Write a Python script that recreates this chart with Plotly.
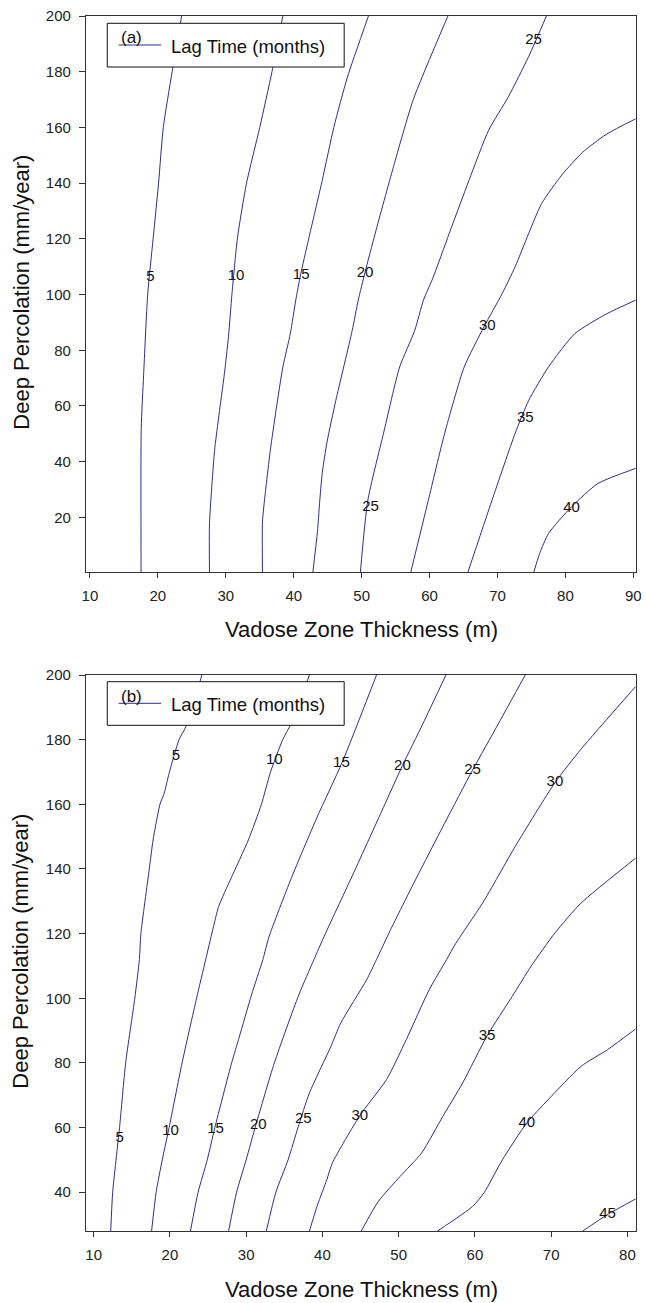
import plotly.graph_objects as go

# ---------------- Panel (a) data: contour lines (x = vadose thickness, y = deep percolation) ----------------
a_levels = [5, 10, 15, 20, 25, 30, 35, 40]
a5_x = [17.53, 17.55, 17.9, 18.5, 19.3, 20.1, 20.8, 22.1, 23.5]
a5_y = [0, 52, 71, 100, 120, 140, 160, 180, 200]
a10_x = [27.6, 27.6, 28.35, 28.9, 29.8, 30.4, 30.9, 31.7, 33.05, 35.0, 36.8, 38.4]
a10_y = [0, 17.8, 44, 55, 71.7, 85, 100, 120, 140, 160, 180, 200]
a15_x = [35.4, 35.4, 35.7, 36.55, 37.4, 38.4, 39.5, 40.3, 41.0, 42.2, 44.2, 45.9, 47.9, 51.0]
a15_y = [0, 18.4, 26.2, 44, 58.5, 74, 86, 98, 107, 120, 141, 160, 178, 200]
a20_x = [42.8, 43.5, 43.8, 44.2, 44.9, 46.2, 48.6, 49.5, 50.5, 52.0, 54.7, 57.6, 62.7]
a20_y = [0, 15, 25, 36, 47, 62, 87, 98, 108, 122, 146, 170, 200]
a25_x = [49.8, 50.9, 53.2, 55.6, 57.8, 59.1, 60.5, 62.9, 65.8, 68.7, 71.6, 74.6, 77.2]
a25_y = [0, 26, 50, 74, 87, 98, 106, 122, 141, 159, 171, 185.5, 200]
a30_x = [57.2, 59.8, 62.2, 65.1, 68.0, 70.7, 72.6, 74.6, 76.5, 79.5, 82.5, 86.0, 90.35]
a30_y = [0, 26, 50, 74, 88.4, 100.4, 110, 122, 132.7, 143, 151, 157.5, 163.1]
a35_x = [65.6, 69.2, 72.6, 74.6, 77.5, 81.4, 86.0, 90.35]
a35_y = [0, 26.2, 50.2, 62, 74, 86, 93, 98]
a40_x = [75.3, 76.2, 77.5, 80.9, 84.8, 90.35]
a40_y = [0, 7, 14.2, 23.8, 32.2, 37.6]

a_lab_text = ["5", "10", "15", "20", "25", "30", "35", "25", "40"]
a_lab_x = [18.9, 31.5, 41.1, 50.5, 75.3, 68.5, 74.1, 51.3, 80.9]
a_lab_y = [106.3, 106.6, 107.0, 107.6, 191.4, 88.7, 55.5, 23.8, 23.2]

# ---------------- Panel (b) data ----------------
b5_x = [12.24, 12.5, 13.4, 14.2, 15.4, 16.0, 16.2, 17.3, 17.8, 18.7, 19.25, 19.9, 21.2, 22.1, 24.2]
b5_y = [28, 40, 60, 80, 100, 112, 120, 140, 149, 160, 163.4, 169.6, 180, 184, 200]
b10_x = [17.6, 18.2, 19.0, 19.9, 21.6, 23.5, 24.7, 25.6, 26.4, 28.0, 30.3, 32.0, 33.2, 34.8, 35.9, 38.3]
b10_y = [28, 40, 50, 60, 80, 100, 112, 121, 128.4, 137, 149, 160, 170, 180, 185, 200]
b15_x = [22.7, 23.7, 24.9, 25.9, 28.1, 29.1, 30.7, 32.2, 33.0, 35.9, 39.3, 42.6, 47.1]
b15_y = [28, 40, 50, 60, 80, 88, 101, 112, 119, 137, 156, 173, 200]
b20_x = [27.7, 28.75, 30.0, 31.3, 33.7, 36.9, 38.9, 40.2, 43.75, 48.0, 50.5, 53.2, 56.2]
b20_y = [28, 40, 50, 61, 80, 101, 112, 119, 137, 159, 172, 185, 200]
b25_x = [32.65, 33.9, 35.5, 36.8, 38.3, 41.1, 42.4, 45.8, 47.1, 48.9, 52.2, 56.0, 59.7, 63.1, 66.6]
b25_y = [28, 40, 50, 60, 70.7, 85, 92.3, 105.7, 112, 121, 136.6, 154, 170.6, 185, 200]
b30_x = [38.3, 39.35, 40.6, 41.3, 45.0, 48.4, 51.0, 54.0, 56.3, 57.5, 61.0, 65.3, 70.5, 73.9, 81.07]
b30_y = [28, 36, 44, 49, 64, 74.8, 87.2, 102.6, 112, 117, 129.4, 147, 166.7, 177, 196.4]
b35_x = [45.1, 47.35, 50.2, 53.0, 55.8, 58.4, 61.6, 64.9, 67.4, 70.5, 73.9, 81.07]
b35_y = [28, 37.2, 44.9, 52.1, 63.5, 73.8, 88.4, 100.6, 110, 120.2, 129.4, 143.3]
b40_x = [55.1, 59.7, 61.2, 63.6, 66.8, 69.6, 73.9, 77.4, 81.07]
b40_y = [28, 35.6, 39.8, 50, 61.4, 68.6, 78.9, 84.1, 90.5]
b45_x = [74.15, 77.4, 81.07]
b45_y = [28, 33.1, 37.9]

b_lab_text = ["5", "10", "15", "20", "25", "30", "35", "40", "45",
              "5", "10", "15", "20", "25", "30"]
b_lab_x = [20.8, 33.7, 42.5, 50.5, 59.7, 70.5, 61.6, 66.8, 77.4,
           13.4, 20.1, 26.0, 31.6, 37.5, 44.9]
b_lab_y = [175.0, 173.7, 172.7, 171.7, 170.6, 166.7, 88.4, 61.4, 33.1,
           56.8, 58.8, 59.4, 60.7, 62.7, 63.5]

# ticks
a_xticks = [10, 20, 30, 40, 50, 60, 70, 80, 90]
a_yticks = [20, 40, 60, 80, 100, 120, 140, 160, 180, 200]
b_xticks = [10, 20, 30, 40, 50, 60, 70, 80]
b_yticks = [40, 60, 80, 100, 120, 140, 160, 180, 200]

x_title = "Vadose Zone Thickness (m)"
y_title = "Deep Percolation (mm/year)"
legend_text = "Lag Time (months)"

LINE = "#2e2e8c"
FONT = "Arial, Liberation Sans, sans-serif"

W, H = 647, 1303
ML, MR, MT, MB = 86, 5, 16, 72
PH = H - MT - MB  # 1215
PLOT = 556

fig = go.Figure()

a_lines = [(a5_x, a5_y), (a10_x, a10_y), (a15_x, a15_y), (a20_x, a20_y),
           (a25_x, a25_y), (a30_x, a30_y), (a35_x, a35_y), (a40_x, a40_y)]
b_lines = [(b5_x, b5_y), (b10_x, b10_y), (b15_x, b15_y), (b20_x, b20_y),
           (b25_x, b25_y), (b30_x, b30_y), (b35_x, b35_y), (b40_x, b40_y), (b45_x, b45_y)]

for xs, ys in a_lines:
    fig.add_trace(go.Scatter(x=xs, y=ys, mode="lines",
                             line=dict(color=LINE, width=1, shape="spline", smoothing=0.6),
                             xaxis="x", yaxis="y", showlegend=False, hoverinfo="skip"))
for xs, ys in b_lines:
    fig.add_trace(go.Scatter(x=xs, y=ys, mode="lines",
                             line=dict(color=LINE, width=1, shape="spline", smoothing=0.6),
                             xaxis="x2", yaxis="y2", showlegend=False, hoverinfo="skip"))

fig.add_trace(go.Scatter(x=a_lab_x, y=a_lab_y, text=a_lab_text, mode="text",
                         textfont=dict(family=FONT, size=15, color="#111"),
                         xaxis="x", yaxis="y", showlegend=False, hoverinfo="skip"))
fig.add_trace(go.Scatter(x=b_lab_x, y=b_lab_y, text=b_lab_text, mode="text",
                         textfont=dict(family=FONT, size=15, color="#111"),
                         xaxis="x2", yaxis="y2", showlegend=False, hoverinfo="skip"))

dom_a = [(PH - PLOT) / PH, 1.0]
dom_b = [0.0, PLOT / PH]

axis_common = dict(showline=True, mirror=True, linecolor="#333", linewidth=1.3,
                   ticks="outside", tickwidth=1, tickcolor="#333",
                   showgrid=False, zeroline=False, ticklabeloverflow="allow",
                   tickfont=dict(family=FONT, size=15, color="#222"))

fig.update_layout(
    width=W, height=H,
    margin=dict(l=ML, r=MR, t=MT, b=MB, pad=0),
    paper_bgcolor="white", plot_bgcolor="white",
    xaxis=dict(domain=[0, 1], anchor="y", range=[9.42, 90.39], tickvals=a_xticks,
               ticklen=5, ticklabelstandoff=5, **axis_common),
    yaxis=dict(domain=dom_a, anchor="x", range=[0.4, 200], tickvals=a_yticks,
               ticklen=6, ticklabelstandoff=5, **axis_common),
    xaxis2=dict(domain=[0, 1], anchor="y2", range=[9.0, 81.13], tickvals=b_xticks,
                ticklen=5, ticklabelstandoff=5, **axis_common),
    yaxis2=dict(domain=dom_b, anchor="x2", range=[28, 200], tickvals=b_yticks,
                ticklen=6, ticklabelstandoff=5, **axis_common),
)


def px2fx(px):
    return (px - ML) / PLOT


def py2fy(py):
    return (H - MB - py) / PH


annots = []
shapes = []
# axis titles
for cy in (629.7, 1289.3):
    annots.append(dict(x=0.5, y=py2fy(cy), xref="paper", yref="paper", text=x_title,
                       showarrow=False, xanchor="center", yanchor="middle",
                       font=dict(family=FONT, size=22, color="#111")))
for cy in (292, 951):
    annots.append(dict(x=px2fx(20), y=py2fy(cy), xref="paper", yref="paper", text=y_title,
                       showarrow=False, xanchor="center", yanchor="middle", textangle=-90,
                       font=dict(family=FONT, size=22, color="#111")))

# legend boxes
for (box_top, box_bot, line_y, tag_y, tag) in [
        (23.3, 67.0, 45.0, 37.5, "(a)"),
        (681.7, 725.3, 703.3, 696.2, "(b)")]:
    shapes.append(dict(type="rect", xref="paper", yref="paper",
                       x0=px2fx(107.5), x1=px2fx(347), y0=py2fy(box_bot), y1=py2fy(box_top),
                       line=dict(color="#111", width=1), fillcolor="white", layer="above"))
    shapes.append(dict(type="line", xref="paper", yref="paper",
                       x0=px2fx(119), x1=px2fx(162), y0=py2fy(line_y), y1=py2fy(line_y),
                       line=dict(color=LINE, width=1), layer="above"))
    annots.append(dict(x=px2fx(119), y=py2fy(tag_y), xref="paper", yref="paper", text=tag,
                       showarrow=False, xanchor="left", yanchor="middle",
                       font=dict(family=FONT, size=17, color="#111")))
    annots.append(dict(x=px2fx(170), y=py2fy(line_y + 1), xref="paper", yref="paper",
                       text=legend_text, showarrow=False, xanchor="left", yanchor="middle",
                       font=dict(family=FONT, size=18.5, color="#111")))

fig.update_layout(annotations=annots, shapes=shapes)

fig.write_html("out.html")
